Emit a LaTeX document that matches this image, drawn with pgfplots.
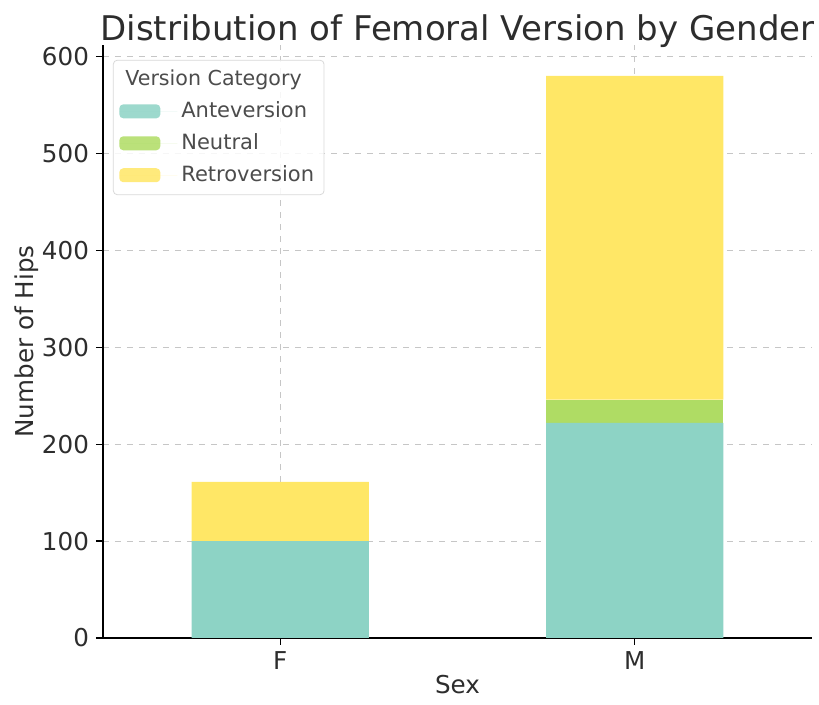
\documentclass[border=0pt]{standalone}
\usepackage{fontspec}
\setmainfont{DejaVu Sans}
\usepackage{pgfplots}
\pgfplotsset{compat=1.18}
\definecolor{cAnte}{RGB}{141,211,197}
\definecolor{cNeut}{RGB}{175,220,100}
\definecolor{cRetro}{RGB}{255,231,102}
\definecolor{txt}{RGB}{45,45,45}
\begin{document}
\begin{tikzpicture}
\useasboundingbox (-51.5pt,-33.5pt) rectangle (358pt,319pt);
\begin{axis}[
  at={(0,0)}, anchor=south west,
  scale only axis,
  width=354.5pt, height=296.5pt,
  xmin=-0.5, xmax=1.5,
  ymin=0, ymax=612,
  ybar stacked, bar width=0.5,
  xtick={0,1}, xticklabels={F,M},
  ytick={0,100,200,300,400,500,600},
  axis x line*=bottom, axis y line*=left,
  axis line style={black, line width=0.6pt},
  tick style={black, line width=0.6pt},
  major tick length=3.5pt,
  tick align=outside,
  grid=major,
  major grid style={dashed, gray!45, line width=0.4pt},
  /pgf/number format/assume math mode=true,
  tick label style={font=\fontsize{12.3}{14}\selectfont, text=txt},
  xlabel={Sex}, ylabel={Number of Hips},
  label style={font=\fontsize{12.3}{14}\selectfont, text=txt},
  xlabel style={yshift=4pt},
  ylabel style={yshift=-5pt},
  title={Distribution of Femoral Version by Gender},
  title style={font=\fontsize{17}{20}\selectfont, text=txt, yshift=-11pt},
  legend style={at={(0.014,0.975)}, anchor=north west, draw=gray!30, rounded corners=2pt,
     fill=white, fill opacity=0.85, text opacity=1,
     font=\fontsize{10.5}{12.5}\selectfont, text=txt!85, row sep=2.5pt, inner sep=3pt},
  legend cell align=left,
  legend image code/.code={\fill[#1] (0pt,-3.5pt) rectangle (20.5pt,3.5pt); \path (0pt,0pt) -- (29pt,0pt);},
  every axis plot/.append style={draw=none},
]
\addlegendimage{empty legend}
\addlegendentry{\hspace{-28pt}\fontsize{10.3}{12}\selectfont Version Category}
\addplot[fill=cAnte, draw=none] coordinates {(0,100) (1,222)};
\addlegendentry{Anteversion}
\addplot[fill=cNeut, draw=none] coordinates {(0,0) (1,24)};
\addlegendentry{Neutral}
\addplot[fill=cRetro, draw=none] coordinates {(0,61) (1,334)};
\addlegendentry{Retroversion}
\end{axis}
\end{tikzpicture}
\end{document}
